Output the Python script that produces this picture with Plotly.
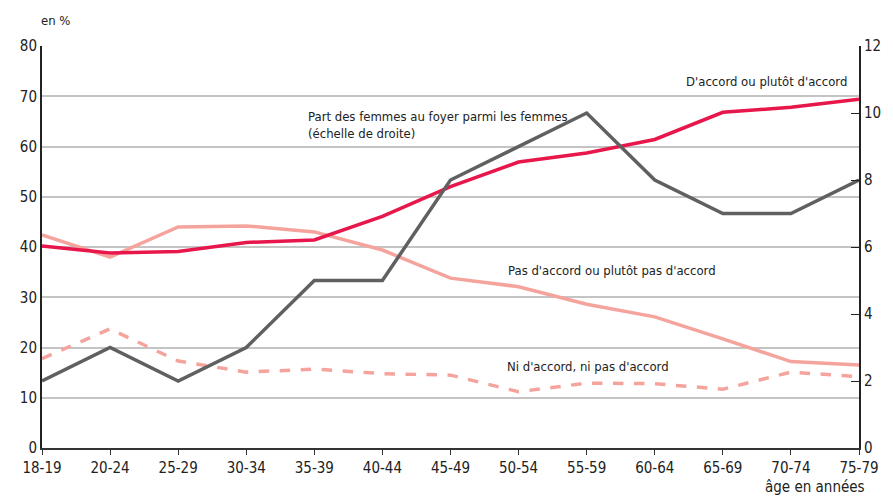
import plotly.graph_objects as go

ages = ["18-19", "20-24", "25-29", "30-34", "35-39", "40-44", "45-49",
        "50-54", "55-59", "60-64", "65-69", "70-74", "75-79"]

daccord = [40.2, 38.8, 39.1, 40.9, 41.4, 46.1, 52.0, 56.9, 58.7, 61.4, 66.8, 67.8, 69.4]
pas_daccord = [42.4, 38.0, 44.0, 44.2, 43.0, 39.4, 33.8, 32.1, 28.6, 26.1, 21.7, 17.2, 16.5]
ni_ni = [17.8, 23.7, 17.3, 15.1, 15.7, 14.8, 14.5, 11.2, 12.9, 12.8, 11.7, 15.1, 14.2]
femmes_foyer = [2, 3, 2, 3, 5, 5, 8, 9, 10, 8, 7, 7, 8]

font_fam = "Liberation Sans Narrow, DejaVu Sans Condensed, Liberation Sans, Arial"
red = "#e8174b"
pink = "#f5a49d"
grey = "#606060"

fig = go.Figure()
fig.add_trace(go.Scatter(x=ages, y=pas_daccord, mode="lines",
                         line=dict(color=pink, width=3.5)))
fig.add_trace(go.Scatter(x=ages, y=ni_ni, mode="lines",
                         line=dict(color=pink, width=3.5, dash="dash")))
fig.add_trace(go.Scatter(x=ages, y=daccord, mode="lines",
                         line=dict(color=red, width=3.5)))
fig.add_trace(go.Scatter(x=ages, y=femmes_foyer, mode="lines", yaxis="y2",
                         line=dict(color=grey, width=3.5)))

# the page adds an 8px body margin, so the figure is drawn 8px lower/right
fig.update_layout(
    width=885, height=489,
    margin=dict(l=33, r=31, t=38, b=49),
    plot_bgcolor="white", paper_bgcolor="white",
    showlegend=False,
    font=dict(family=font_fam, size=15, color="#222222"),
    xaxis=dict(range=[0, 12], showgrid=False, showline=True, linecolor="#333333",
               linewidth=2, ticks="outside", ticklen=5, tickcolor="#333333",
               tickfont=dict(size=15), zeroline=False),
    yaxis=dict(range=[0, 80], tickvals=list(range(0, 81, 10)), showgrid=True,
               gridcolor="#c4c4c4", gridwidth=1.5, showline=True, linecolor="#222222",
               linewidth=2, ticks="", zeroline=False, tickfont=dict(size=15)),
    yaxis2=dict(range=[0, 12], tickvals=list(range(0, 13, 2)), overlaying="y",
                side="right", showgrid=False, showline=True, linecolor="#222222",
                linewidth=2, ticks="inside", ticklen=8, tickcolor="#222222",
                zeroline=False, tickfont=dict(size=15)),
)

ann = dict(showarrow=False, font=dict(family=font_fam, size=13, color="#222222"))
fig.add_annotation(text="en %", xref="paper", yref="paper", x=-0.004, y=1.0,
                   yshift=26, xanchor="left", yanchor="middle", **ann)
fig.add_annotation(text="D'accord ou plutôt d'accord", xref="paper", yref="y",
                   x=0.988, y=73, xanchor="right", yanchor="middle", **ann)
fig.add_annotation(text="Part des femmes au foyer parmi les femmes<br>(échelle de droite)",
                   xref="paper", yref="y", x=0.323, y=64.2, xanchor="left",
                   yanchor="middle", align="left", **ann)
fig.add_annotation(text="Pas d'accord ou plutôt pas d'accord", xref="paper", yref="y",
                   x=0.568, y=35.4, xanchor="left", yanchor="middle", **ann)
fig.add_annotation(text="Ni d'accord, ni pas d'accord", xref="paper", yref="y",
                   x=0.567, y=16.2, xanchor="left", yanchor="middle", **ann)
fig.add_annotation(text="âge en années", xref="paper", yref="paper", x=1.01, y=0,
                   yshift=-39, xanchor="right", yanchor="middle",
                   showarrow=False, font=dict(family=font_fam, size=15, color="#222222"))

fig.write_html("out.html")
